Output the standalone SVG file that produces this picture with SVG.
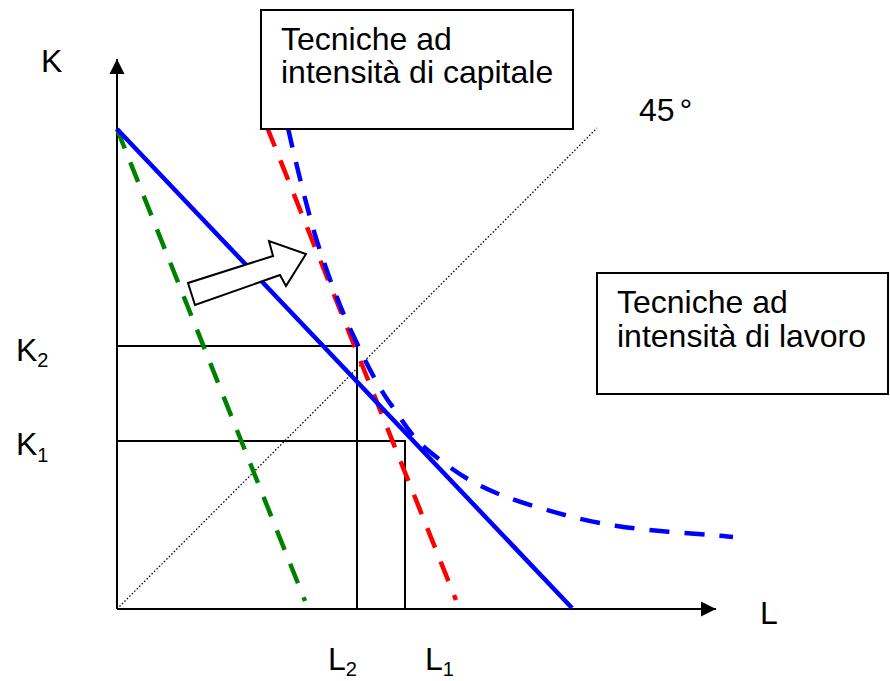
<svg xmlns="http://www.w3.org/2000/svg" width="890" height="681" viewBox="0 0 890 681">
<style>
text{font-family:"Liberation Sans",Arial,sans-serif;fill:#000}
.lbl{font-size:32px}
.sub{font-size:20px}
.box{fill:#fff;stroke:#000;stroke-width:2}
.guide{fill:none;stroke:#000;stroke-width:2}
.dash{fill:none;stroke-width:4.5;stroke-dasharray:21 15}
.iso{stroke-dasharray:20 15}
</style>
<defs>
<marker id="ah" markerWidth="16" markerHeight="16" refX="15" refY="8" markerUnits="userSpaceOnUse" orient="auto">
<path d="M0,0.5 L15,8 L0,15.5 Z" fill="#000"/>
</marker>
</defs>
<rect width="890" height="681" fill="#fff"/>
<g id="connectors">
<line id="diag45" x1="117" y1="609" x2="597" y2="128" stroke="#000" stroke-width="1.3" stroke-dasharray="1.5 2"/>
<polyline class="guide" points="117,346 357,346 357,609"/>
<polyline class="guide" points="117,441 405,441 405,609"/>
<line x1="117" y1="609" x2="117" y2="59" stroke="#000" stroke-width="2" marker-end="url(#ah)"/>
<line x1="117" y1="609" x2="716" y2="609" stroke="#000" stroke-width="2" marker-end="url(#ah)"/>
<line id="green" class="dash" x1="117" y1="129" x2="305" y2="601" stroke="#008000"/>
<line id="red" class="dash" x1="267" y1="127" x2="456" y2="600" stroke="#ff0000"/>
<line id="budget" x1="117" y1="129" x2="572" y2="608" stroke="#0000ff" stroke-width="4.5"/>
<path id="isoquant" class="dash iso" stroke="#0000ff" d="M288,128 C291.7,144.7 303,193 313,228 C323,262 339,306 354,337 C367,365 381,392 392,406 C403,422 407,428 418,442 C432,454 453,471 473,482 C493,493 516,501 540,508 C564,515 585,521 617,526 C649,531 714,535 733,537"/>
<polygon id="shift-arrow" points="195,305 188,283 273,256 269,241 306,254 286,286 280,275" fill="#fff" stroke="#000" stroke-width="2" stroke-linejoin="miter"/>
</g>
<g id="box-capitale">
<rect class="box" x="261" y="10" width="312" height="119"/>
<text class="lbl" x="281" y="50">Tecniche ad</text>
<text class="lbl" x="281" y="83">intensità di capitale</text>
</g>
<g id="box-lavoro">
<rect class="box" x="597" y="273" width="291" height="121"/>
<text class="lbl" x="617" y="313">Tecniche ad</text>
<text class="lbl" x="617" y="347">intensità di lavoro</text>
</g>
<g id="label-45">
<text class="lbl" x="639" y="121">45<tspan dx="5">°</tspan></text>
</g>
<g id="label-K">
<text class="lbl" x="41" y="72">K</text>
</g>
<g id="label-L">
<text class="lbl" x="760" y="624">L</text>
</g>
<g id="label-K2">
<text class="lbl" x="16" y="361">K<tspan class="sub" dy="6">2</tspan></text>
</g>
<g id="label-K1">
<text class="lbl" x="16" y="455">K<tspan class="sub" dy="7">1</tspan></text>
</g>
<g id="label-L2">
<text class="lbl" x="328" y="670">L<tspan class="sub" dy="6">2</tspan></text>
</g>
<g id="label-L1">
<text class="lbl" x="425" y="670">L<tspan class="sub" dy="6">1</tspan></text>
</g>
</svg>
